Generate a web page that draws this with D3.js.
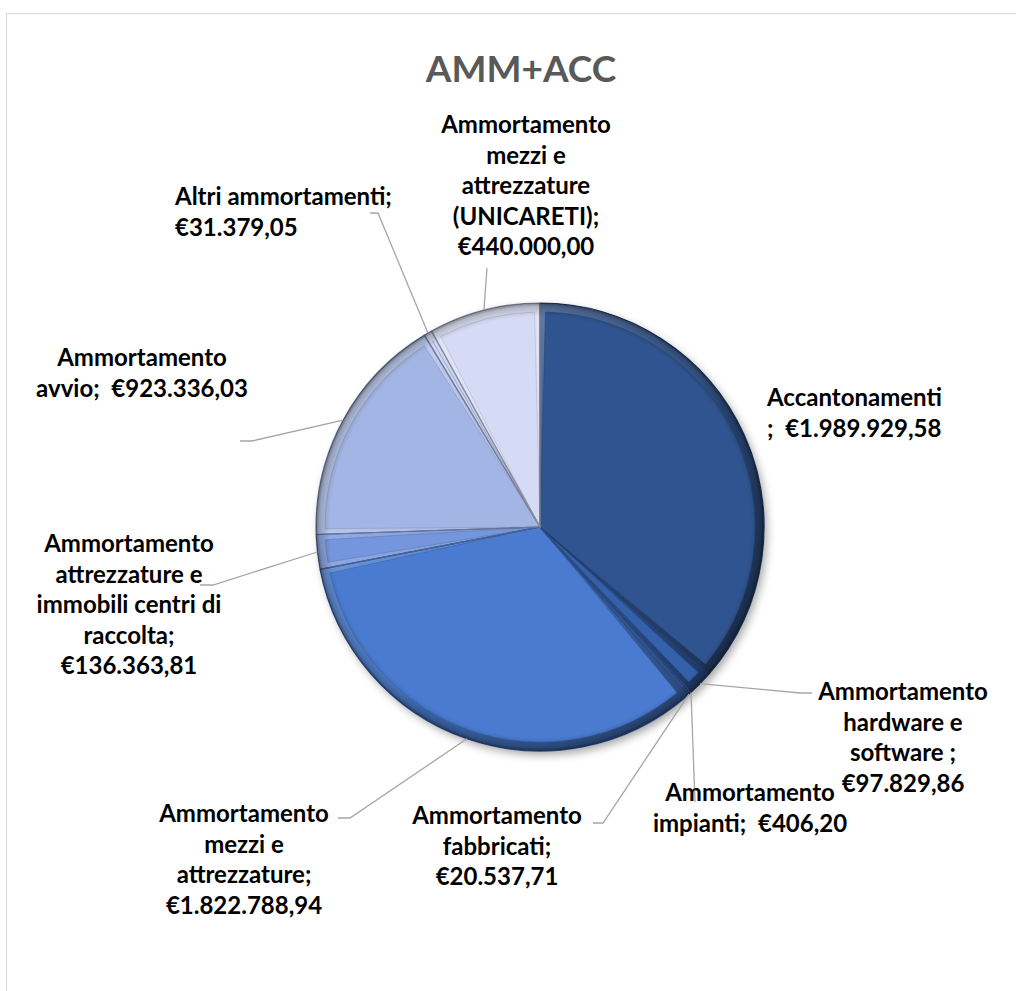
<!DOCTYPE html>
<html>
<head>
<meta charset="utf-8">
<script src="https://cdn.jsdelivr.net/npm/d3@7"></script>
<style>
  body { margin: 0; background: #fff; }
  svg text { font-family: Lato, "Open Sans", sans-serif; font-weight: bold; white-space: pre; }
</style>
</head>
<body>
<div id="chart"></div>
<script>
// data
var categories = [
    "Accantonamenti",
    "Ammortamento hardware e software",
    "Ammortamento impianti",
    "Ammortamento fabbricati",
    "Ammortamento mezzi e attrezzature",
    "Ammortamento attrezzature e immobili centri di raccolta",
    "Ammortamento avvio",
    "Altri ammortamenti",
    "Ammortamento mezzi e attrezzature (UNICARETI)"
];
var values = [1989929.58, 97829.86, 406.20, 20537.71, 1822788.94, 136363.81, 923336.03, 31379.05, 440000.00];
// label text as wrapped in the chart, {v} = formatted value
var labelLines = [
    ["Accantonamenti", ";  {v}"],
    ["Ammortamento", "hardware e", "software ;", "{v}"],
    ["Ammortamento", "impianti;  {v}"],
    ["Ammortamento", "fabbricati;", "{v}"],
    ["Ammortamento", "mezzi e", "attrezzature;", "{v}"],
    ["Ammortamento", "attrezzature e", "immobili centri di", "raccolta;", "{v}"],
    ["Ammortamento", "avvio;  {v}"],
    ["Altri ammortamenti;", "{v}"],
    ["Ammortamento", "mezzi e", "attrezzature", "(UNICARETI);", "{v}"]
];
var colors = ["#30548f", "#3561aa", "#3a69b8", "#3f6fc0", "#4a7bd0", "#7595dc", "#a2b5e4", "#bcc8ec", "#d5dbf4"];
var title = "AMM+ACC";

var width = 1016, height = 991;
var cx = 540, cy = 527, radius = 224;

var it = d3.formatLocale({decimal: ",", thousands: ".", grouping: [3], currency: ["€", ""]});
var fmt = it.format("$,.2f");

// label placement: x, first line centre y, anchor, leader points on label side
var labelPos = [
    {x: 767, y: 398, anchor: "start", leader: null},
    {x: 903, y: 692, anchor: "middle", leader: [[812, 693], [800, 693]]},
    {x: 750, y: 793, anchor: "middle", leader: [[695, 802]]},
    {x: 497, y: 816, anchor: "middle", leader: [[593, 823], [603, 823]]},
    {x: 244, y: 814, anchor: "middle", leader: [[338, 818], [350, 818]]},
    {x: 129, y: 544, anchor: "middle", leader: [[200, 585], [213, 585]]},
    {x: 142, y: 358, anchor: "middle", leader: [[240, 441], [252, 441]]},
    {x: 175, y: 197, anchor: "start", leader: [[370, 213], [378, 213]]},
    {x: 526, y: 125, anchor: "middle", leader: [[487, 268]]}
];
var lineH = 30.5;

var svg = d3.select("#chart").append("svg")
    .attr("width", width)
    .attr("height", height);

var defs = svg.append("defs");
var shadow = defs.append("filter").attr("id", "shadow")
    .attr("x", "-20%").attr("y", "-20%").attr("width", "140%").attr("height", "140%");
shadow.append("feDropShadow")
    .attr("dx", 3).attr("dy", 4)
    .attr("stdDeviation", 4)
    .attr("flood-color", "#000")
    .attr("flood-opacity", 0.35);

// light from top-left on the chamfered edges
var light = defs.append("linearGradient").attr("id", "light")
    .attr("gradientUnits", "userSpaceOnUse")
    .attr("x1", -radius * 0.7).attr("y1", -radius * 0.7)
    .attr("x2", radius * 0.7).attr("y2", radius * 0.7);
light.append("stop").attr("offset", "0").attr("stop-color", "#fff").attr("stop-opacity", 0.3);
light.append("stop").attr("offset", "0.45").attr("stop-color", "#fff").attr("stop-opacity", 0.05);
light.append("stop").attr("offset", "0.6").attr("stop-color", "#000").attr("stop-opacity", 0.12);
light.append("stop").attr("offset", "1").attr("stop-color", "#000").attr("stop-opacity", 0.4);

var rim = defs.append("radialGradient").attr("id", "rim")
    .attr("gradientUnits", "userSpaceOnUse")
    .attr("cx", 0).attr("cy", 0).attr("r", radius);
rim.append("stop").attr("offset", "0.94").attr("stop-color", "#000").attr("stop-opacity", 0);
rim.append("stop").attr("offset", "0.985").attr("stop-color", "#000").attr("stop-opacity", 0.2);
rim.append("stop").attr("offset", "1").attr("stop-color", "#000").attr("stop-opacity", 0.45);

// chart frame
svg.append("rect")
    .attr("x", 6.5).attr("y", 13.5)
    .attr("width", width + 20).attr("height", height + 20)
    .attr("fill", "#fff")
    .attr("stroke", "#d9d9d9")
    .attr("stroke-width", 1);

svg.append("text")
    .attr("x", 521)
    .attr("y", 82)
    .attr("text-anchor", "middle")
    .attr("font-size", 37)
    .attr("fill", "#595959")
    .text(title);

var pie = d3.pie().sort(null).value(function (d) { return d; });
var arcs = pie(values);

var arc = d3.arc().innerRadius(0).outerRadius(radius);
// inset top face of the bevel
var faceArc = d3.arc().innerRadius(0).outerRadius(radius - 9)
    .padRadius(radius).padAngle(11 / radius);

var g = svg.append("g")
    .attr("transform", "translate(" + cx + "," + cy + ")");

var pieG = g.append("g").attr("filter", "url(#shadow)");

pieG.selectAll("path.slice")
    .data(arcs)
    .enter()
    .append("path")
    .attr("class", "slice")
    .attr("d", arc)
    .attr("fill", function (d, i) { return colors[i]; });

g.append("circle")
    .attr("r", radius)
    .attr("fill", "url(#light)");

g.selectAll("path.face")
    .data(arcs)
    .enter()
    .append("path")
    .attr("class", "face")
    .attr("d", faceArc)
    .attr("fill", function (d, i) { return colors[i]; })
    .attr("stroke", function (d, i) { return d3.color(colors[i]).darker(0.5); })
    .attr("stroke-opacity", 0.6)
    .attr("stroke-width", 1);

g.selectAll("path.edge")
    .data(arcs)
    .enter()
    .append("path")
    .attr("class", "edge")
    .attr("d", arc)
    .attr("fill", "none")
    .attr("stroke", function (d, i) { return d3.color(colors[i]).darker(1.2); })
    .attr("stroke-width", 1.2)
    .attr("stroke-linejoin", "round");

g.append("circle")
    .attr("r", radius)
    .attr("fill", "url(#rim)");

// leader lines
var leaders = svg.append("g");
arcs.forEach(function (d, i) {
    var p = labelPos[i];
    if (!p.leader) return;
    var a = (d.startAngle + d.endAngle) / 2;
    var end = [cx + radius * Math.sin(a), cy - radius * Math.cos(a)];
    var pts = p.leader.concat([end]);
    leaders.append("path")
        .attr("d", d3.line()(pts))
        .attr("fill", "none")
        .attr("stroke", "#a6a6a6")
        .attr("stroke-width", 1.3);
});

// data labels
var labels = svg.append("g");
labelLines.forEach(function (lines, i) {
    var p = labelPos[i];
    var t = labels.append("text")
        .attr("text-anchor", p.anchor)
        .attr("font-size", 24)
        .attr("fill", "#000");
    lines.forEach(function (s, k) {
        t.append("tspan")
            .attr("x", p.x)
            .attr("y", p.y + 8 + k * lineH)
            .text(s.replace("{v}", fmt(values[i])));
    });
});
</script>
</body>
</html>
